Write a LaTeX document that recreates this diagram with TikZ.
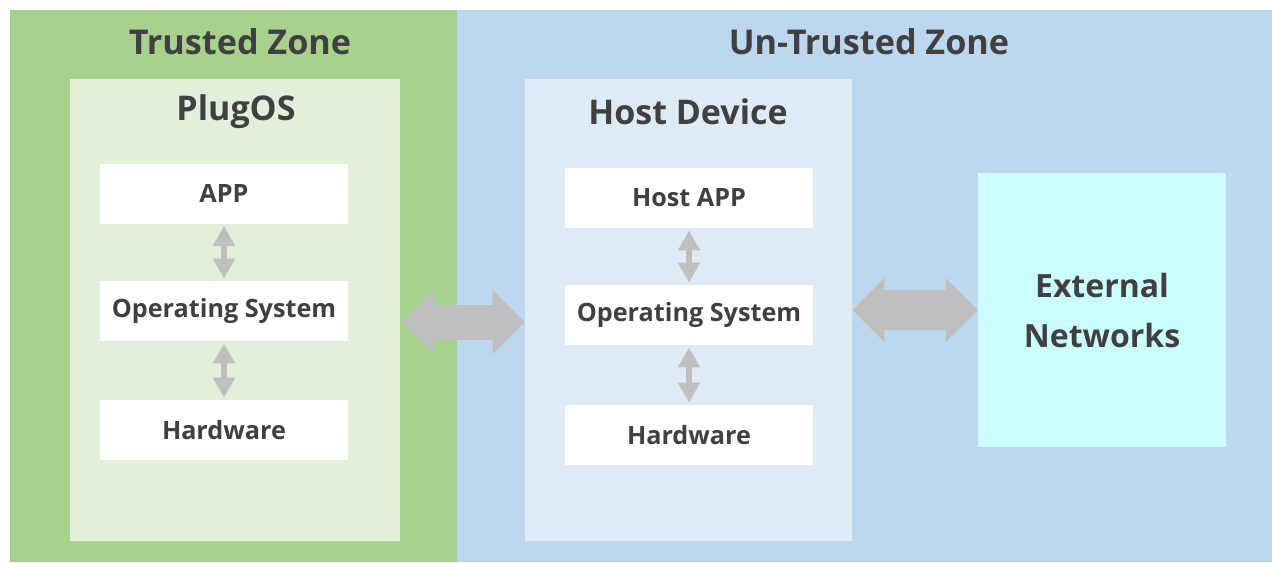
\documentclass[tikz,border=0pt]{standalone}
\usepackage{fontspec}
\setmainfont{Open Sans}
\usetikzlibrary{arrows.meta}

\definecolor{trustgreen}{HTML}{A9D18E}
\definecolor{untrustblue}{HTML}{BDD7EE}
\definecolor{plugfill}{HTML}{E2EFDA}
\definecolor{hostfill}{HTML}{DEEBF7}
\definecolor{netfill}{HTML}{CCFFFF}
\definecolor{arrowgray}{HTML}{BFBFBF}
\definecolor{textgray}{HTML}{404040}

\tikzset{
  zonetitle/.style={inner sep=0,text=textgray,font=\fontsize{17.1}{20}\selectfont\bfseries},
  boxtitle/.style={inner sep=0,text=textgray,font=\fontsize{17}{20}\selectfont\bfseries},
  container/.style={fill=#1,inner sep=0,minimum width=165pt,minimum height=231pt},
  layer/.style={fill=white,inner sep=0,minimum width=124pt,minimum height=30pt,
    text=textgray,font=\fontsize{12.6}{14}\selectfont\bfseries},
  updown/.style={draw=arrowgray,line width=3pt,shorten <=1pt,shorten >=1pt,
    {Triangle[length=10pt,width=10.5pt]}-{Triangle[length=10pt,width=10.5pt]}},
  bigarrow/.style={draw=arrowgray,line width=#1,
    {Triangle[length=16pt,width=31pt]}-{Triangle[length=16pt,width=31pt]}}
}

\begin{document}
\begin{tikzpicture}[x=0.5pt,y=-0.5pt]
\useasboundingbox (0,0) rectangle (1272,562);
\fill[white] (0,0) rectangle (1272,562);
% zones
\fill[trustgreen] (10,10) rectangle (457,562);
\fill[untrustblue] (457,10) rectangle (1272,562);
\node[zonetitle] (trusted) at (240,42) {Trusted Zone};
\node[zonetitle] (untrusted) at (869,42) {Un-Trusted Zone};

% PlugOS side
\node[container=plugfill] (plugos) at (235,310) {};
\node[boxtitle] (plugtitle) at (236,112) {PlugOS};
\node[layer] (app) at (224,193.5) {APP};
\node[layer] (os) at (224,311) {Operating System};
\node[layer] (hw) at (224,430) {Hardware};
\draw[updown] (app) -- (os);
\draw[updown] (os) -- (hw);

% host side
\node[container=hostfill,minimum width=163.5pt] (host) at (688.5,310) {};
\node[boxtitle] (hosttitle) at (688,112) {Host Device};
\node[layer] (hostapp) at (689,198) {Host APP};
\node[layer] (hostos) at (689,315) {Operating System};
\node[layer] (hosthw) at (689,435) {Hardware};
\draw[updown] (hostapp) -- (hostos);
\draw[updown] (hostos) -- (hosthw);

% external
\node[fill=netfill,inner sep=0,minimum width=124pt,minimum height=137pt,align=center,
  text=textgray,font=\fontsize{16}{25}\selectfont\bfseries] (net) at (1102,310) {External\\Networks};

\draw[bigarrow=17.5pt] ([xshift=1pt,yshift=-6pt]plugos.east) -- ([yshift=-6pt]host.west);
\draw[bigarrow=20pt] (host.east) -- (net.west);
\end{tikzpicture}
\end{document}
